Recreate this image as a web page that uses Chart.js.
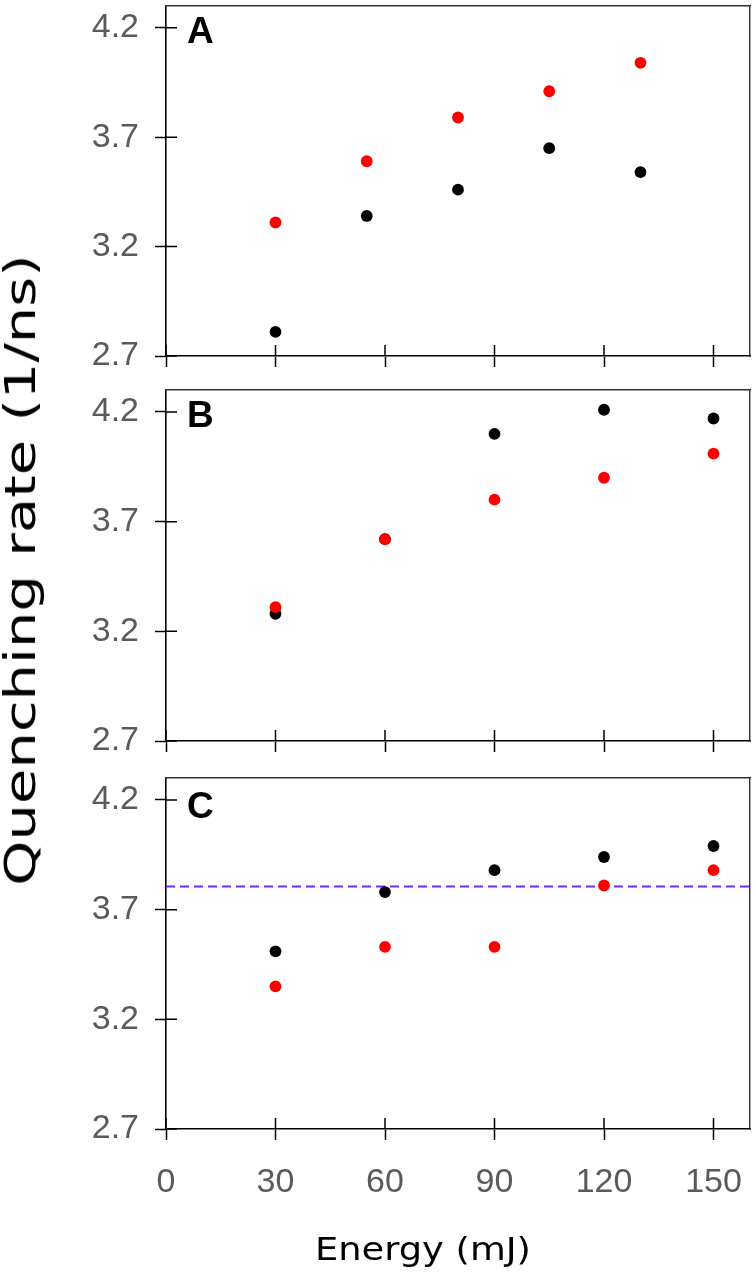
<!DOCTYPE html>
<html lang="en">
<head>
    <meta charset="UTF-8">
    <title>Quenching rate vs energy</title>
    <script src="https://cdn.jsdelivr.net/npm/chart.js"></script>
    <style>
        body { margin: 0; background: #fff; }
        #wrap { position: relative; width: 756px; height: 1272px; overflow: hidden; }
        canvas { position: absolute; left: 0; }
        .axtitle { position: absolute; font-family: 'DejaVu Sans', sans-serif; color: #000; white-space: nowrap; line-height: 1; }
        #ytitle { left: 21px; top: 570px; font-size: 42px; transform: translate(-50%, -50%) rotate(-90deg) scaleX(1.37); }
        #xtitle { left: 423px; top: 1249px; font-size: 32px; transform: translate(-50%, -50%) scaleX(1.15); }
    </style>
</head>
<body>
<div id="wrap">
    <canvas id="panelA" width="756" height="380" style="top:0px"></canvas>
    <canvas id="panelB" width="756" height="385" style="top:380px"></canvas>
    <canvas id="panelC" width="756" height="507" style="top:765px"></canvas>
    <div class="axtitle" id="ytitle">Quenching rate (1/ns)</div>
    <div class="axtitle" id="xtitle">Energy (mJ)</div>
</div>

<script>
    // --- data ---
    const energyA = [30, 55, 80, 105, 130];
    const energyBC = [30, 60, 90, 120, 150];

    const rateA_black = [2.81, 3.34, 3.46, 3.65, 3.54];
    const rateA_red   = [3.31, 3.59, 3.79, 3.91, 4.04];

    const rateB_black = [3.28, 3.62, 4.10, 4.21, 4.17];
    const rateB_red   = [3.31, 3.62, 3.80, 3.90, 4.01];

    const rateC_black = [3.51, 3.78, 3.88, 3.94, 3.99];
    const rateC_red   = [3.35, 3.53, 3.53, 3.81, 3.88];
    const refLevelC = 3.805;   // dashed line in panel C

    const xTicks = [0, 30, 60, 90, 120, 150];
    const yTicks = [2.7, 3.2, 3.7, 4.2];
    const xRange = [0, 160];
    const yRange = [2.7, 4.3];

    const tickFont = { family: "'Liberation Sans', Arial, sans-serif", size: 34 };
    const tickColor = '#5a5a5a';

    const toPoints = (xs, ys) => xs.map((x, i) => ({ x, y: ys[i] }));

    // no extra room for half tick labels, the box is placed by hand
    const noPad = s => { s.paddingTop = 0; s.paddingBottom = 0; s.paddingLeft = 0; s.paddingRight = 0; };

    // ticks in R cross the axis, Chart.js only draws the outer half
    const innerTicks = {
        id: 'innerTicks',
        afterDraw(chart) {
            const { ctx, chartArea } = chart;
            ctx.save();
            ctx.strokeStyle = '#000';
            ctx.lineWidth = 1.5;
            ctx.beginPath();
            chart.scales.x.ticks.forEach(t => {
                const px = chart.scales.x.getPixelForValue(t.value);
                ctx.moveTo(px, chartArea.bottom);
                ctx.lineTo(px, chartArea.bottom - 11);
            });
            chart.scales.y.ticks.forEach(t => {
                const py = chart.scales.y.getPixelForValue(t.value);
                ctx.moveTo(chartArea.left, py);
                ctx.lineTo(chartArea.left + 11, py);
            });
            ctx.stroke();
            ctx.restore();
        }
    };

    const panelLabel = {
        id: 'panelLabel',
        afterDraw(chart, args, opts) {
            const { ctx, chartArea } = chart;
            ctx.save();
            ctx.font = "bold 37px 'Liberation Sans', Arial, sans-serif";
            ctx.fillStyle = '#000';
            ctx.textBaseline = 'alphabetic';
            ctx.textAlign = 'left';
            ctx.fillText(opts.text, chartArea.left + 21, chartArea.top + opts.dy);
            ctx.restore();
        }
    };

    function makePanel(id, cfg) {
        const datasets = [];
        if (cfg.ref !== undefined) {
            datasets.push({
                type: 'line',
                data: xRange.map(x => ({ x, y: cfg.ref })),
                borderColor: '#6f2bff',
                borderWidth: 2,
                borderDash: [9, 5],
                pointRadius: 0,
                order: 3
            });
        }
        datasets.push({ data: toPoints(cfg.x, cfg.black), backgroundColor: '#000', order: 2 });
        datasets.push({ data: toPoints(cfg.x, cfg.red), backgroundColor: '#ff0000', order: 1 });

        return new Chart(document.getElementById(id), {
            type: 'scatter',
            data: { datasets },
            plugins: [innerTicks, panelLabel],
            options: {
                responsive: false,
                animation: false,
                events: [],
                layout: { padding: { top: cfg.top, right: 6, left: 0, bottom: 0 } },
                elements: { point: { radius: 5.9, borderWidth: 0, hoverRadius: 5.9 } },
                scales: {
                    x: {
                        type: 'linear', position: 'bottom', min: xRange[0], max: xRange[1],
                        afterBuildTicks: s => { s.ticks = xTicks.map(v => ({ value: v })); },
                        afterFit: s => { s.height = cfg.xHeight; noPad(s); },
                        grid: { drawOnChartArea: false, tickLength: 11, tickWidth: 1.5, tickColor: '#000' },
                        border: { color: '#000', width: 1.6 },
                        ticks: { display: cfg.xLabels, font: tickFont, color: tickColor, padding: 22, maxRotation: 0, callback: v => String(v) }
                    },
                    y: {
                        type: 'linear', position: 'left', min: yRange[0], max: yRange[1],
                        afterBuildTicks: s => { s.ticks = yTicks.map(v => ({ value: v })); },
                        afterFit: s => { s.width = 166; noPad(s); },
                        grid: { drawOnChartArea: false, tickLength: 11, tickWidth: 1.5, tickColor: '#000' },
                        border: { color: '#000', width: 1.6 },
                        ticks: { font: tickFont, color: tickColor, padding: 16, callback: v => v.toFixed(1) }
                    },
                    xTop: {
                        type: 'linear', position: 'top', grid: { display: false },
                        ticks: { display: false }, border: { color: '#333', width: 1.4 },
                        afterFit: s => { s.height = 0; noPad(s); }
                    },
                    yRight: {
                        type: 'linear', position: 'right', grid: { display: false },
                        ticks: { display: false }, border: { color: '#333', width: 1.4 },
                        afterFit: s => { s.width = 0; noPad(s); }
                    }
                },
                plugins: {
                    legend: { display: false },
                    tooltip: { enabled: false },
                    panelLabel: { text: cfg.label, dy: cfg.labelDy }
                }
            }
        });
    }

    makePanel('panelA', { label: 'A', labelDy: 37, top: 4, xHeight: 24, xLabels: false,
        x: energyA, black: rateA_black, red: rateA_red });
    makePanel('panelB', { label: 'B', labelDy: 37, top: 10, xHeight: 24, xLabels: false,
        x: energyBC, black: rateB_black, red: rateB_red });
    makePanel('panelC', { label: 'C', labelDy: 40, top: 13, xHeight: 143, xLabels: true,
        x: energyBC, black: rateC_black, red: rateC_red, ref: refLevelC });
</script>
</body>
</html>
